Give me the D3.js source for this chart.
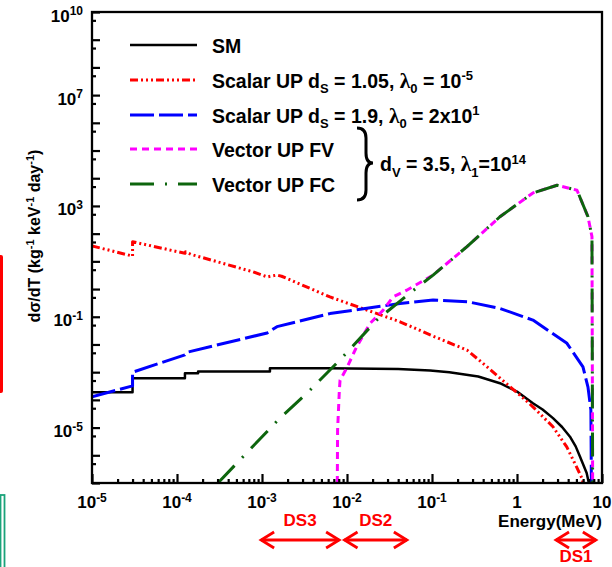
<!DOCTYPE html>
<html>
<head>
<meta charset="utf-8">
<script src="https://cdn.jsdelivr.net/npm/d3@7"></script>
<style>
body { margin: 0; background: #fff; }
text { font-family: "Liberation Sans", Arial, sans-serif; font-weight: bold; }
</style>
</head>
<body>
<svg id="chart" width="612" height="567"></svg>
<script>
// energy in MeV, rate in kg^-1 keV^-1 day^-1
var smE = [1e-5, 3.0e-5, 3.0e-5, 1.24e-4, 1.24e-4, 1.77e-4, 1.77e-4, 1.24e-3, 1.24e-3, 6e-3, 0.04, 0.095, 0.16, 0.35, 0.63, 1.0, 1.54, 2.0, 2.65, 3.39, 4.2, 4.9, 5.5, 6.6, 7.0];
var smR = [1.9e-4, 1.9e-4, 6.0e-4, 6.0e-4, 9.1e-4, 9.1e-4, 1.05e-3, 1.05e-3, 1.38e-3, 1.38e-3, 1.3e-3, 1.15e-3, 1.0e-3, 7e-4, 4e-4, 2.0e-4, 7.6e-5, 4.5e-5, 2.2e-5, 1.05e-5, 4.7e-6, 2.1e-6, 9e-7, 2.3e-7, 1e-7];

var s1E = [1e-5, 3.0e-5, 3.0e-5, 1.24e-4, 1.26e-4, 1.45e-4, 7.8e-4, 1.15e-3, 1.5e-3, 1.7e-3, 6.3e-3, 0.042, 0.103, 0.258, 0.44, 0.83, 1.08, 1.54, 2.65, 3.85, 5.0, 5.8, 6.0];
var s1R = [36, 15.5, 51, 19.5, 22, 18, 4.2, 2.75, 3.2, 2.9, 0.52, 0.066, 0.02, 6.3e-3, 1.6e-3, 2.95e-4, 1.5e-4, 5.6e-5, 1.07e-5, 2.0e-6, 3.9e-7, 1.5e-7, 1e-7];

var s2E = [1e-5, 3.0e-5, 3.0e-5, 1.24e-4, 1.3e-4, 1.15e-3, 1.5e-3, 6.3e-3, 0.042, 0.103, 0.26, 0.63, 1.54, 3.87, 5.97, 6.84, 7.4, 7.5];
var s2R = [1.3e-4, 3.2e-4, 1.0e-3, 4.2e-3, 5.2e-3, 0.026, 0.044, 0.13, 0.30, 0.40, 0.35, 0.20, 0.076, 0.011, 1.55e-3, 2.9e-4, 4.3e-5, 1e-7];

var fvE = [7.69e-3, 7.75e-3, 8.13e-3, 8.28e-3, 9.9e-3, 0.013, 0.0187, 0.0265, 0.0348, 0.0504, 0.103, 0.258, 0.63, 1.54, 2.96, 5.08, 6.84, 7.62, 7.76];
var fvR = [1e-7, 8.1e-6, 2.24e-4, 5.1e-4, 1.38e-3, 8.3e-3, 0.058, 0.17, 0.52, 0.91, 3.2, 34, 407, 2950, 5600, 3700, 407, 78, 1e-7];

var fcE = [3.03e-4, 1.54e-3, 3.67e-3, 8.97e-3, 0.0224, 0.055, 0.103, 0.258, 0.63, 1.54, 2.96, 5.08, 6.84, 7.62, 7.76];
var fcR = [1e-7, 1.86e-5, 2.24e-4, 3.6e-3, 0.076, 0.72, 3.2, 34, 407, 2950, 5600, 3700, 407, 78, 1e-7];

var xMajor = [1e-5, 1e-4, 1e-3, 1e-2, 1e-1, 1, 10];
var xLabels = [["10", "-5"], ["10", "-4"], ["10", "-3"], ["10", "-2"], ["10", "-1"], ["1", ""], ["10", ""]];
var yLabelVals = [1e10, 1e7, 1e3, 1e-1, 1e-5];
var yLabels = [["10", "10"], ["10", "7"], ["10", "3"], ["10", "-1"], ["10", "-5"]];

var dsNames = ["DS3", "DS2", "DS1"];
var dsLo = [9.5e-4, 9.1e-3, 2.8];
var dsHi = [8.3e-3, 0.052, 8.7];

var legendParts = [
  [["SM", ""]],
  [["Scalar UP d", ""], ["S", "sub"], [" = 1.05, ", ""], ["λ", "greek"], ["0", "sub"], [" = 10", ""], ["-5", "sup"]],
  [["Scalar UP d", ""], ["S", "sub"], [" = 1.9,  ", ""], ["λ", "greek"], ["0", "sub"], [" = 2x10", ""], ["1", "sup"]],
  [["Vector UP FV", ""]],
  [["Vector UP FC", ""]]
];
var braceParts = [["d", ""], ["V", "sub"], [" = 3.5, ", ""], ["λ", "greek"], ["1", "sub"], ["=10", ""], ["14", "sup"]];

var series = [
  { e: smE, r: smR, color: "#000000", dash: null },
  { e: s1E, r: s1R, color: "#ff0000", dash: "8,3,2,3,2,3,2,3" },
  { e: s2E, r: s2R, color: "#0000ff", dash: "24,5" },
  { e: fvE, r: fvR, color: "#ff00ff", dash: "7,5" },
  { e: fcE, r: fcR, color: "#0d650d", dash: "24,11,2,11" }
];

var svg = d3.select("#chart");
var mL = 92, mR = 602, mT = 12, mB = 483;

var x = d3.scaleLog().domain([1e-5, 10]).range([mL, mR]);
var y = d3.scaleLog().domain([1e-7, 1e10]).range([mB, mT]);

function rich(t, parts, fs) {
  var shift = 0;
  parts.forEach(function(p) {
    var s = p[1] == "sub" ? fs * 0.3 : (p[1] == "sup" ? -fs * 0.38 : 0);
    var ts = t.append("tspan").text(p[0]).attr("dy", s - shift);
    shift = s;
    if (p[1] == "sub" || p[1] == "sup") ts.attr("font-size", Math.round(fs * 0.68));
    if (p[1] == "greek") ts.attr("font-family", "Liberation Serif").attr("font-size", fs * 1.1);
  });
}

// side bars from the slide
svg.append("rect").attr("x", -3).attr("y", 255).attr("width", 6).attr("height", 138).attr("rx", 2).attr("fill", "#ff0000");
svg.append("rect").attr("x", 0.5).attr("y", 495).attr("width", 4).attr("height", 80).attr("fill", "none").attr("stroke", "#1aa37a").attr("stroke-width", 1.8);

svg.append("clipPath").attr("id", "plot").append("rect")
  .attr("x", mL).attr("y", mT).attr("width", mR - mL).attr("height", mB - mT);

var line = d3.line().x(function(d) { return x(d[0]); }).y(function(d) { return y(d[1]); });

svg.append("g").attr("clip-path", "url(#plot)")
  .selectAll("path").data(series).enter().append("path")
  .attr("d", function(s) { return line(d3.zip(s.e, s.r)); })
  .attr("fill", "none")
  .attr("stroke", function(s) { return s.color; })
  .attr("stroke-width", function(s) { return s.dash ? 3 : 2.5; })
  .attr("stroke-linejoin", "round")
  .attr("stroke-dasharray", function(s) { return s.dash; });

// minor ticks
var xMinor = [];
xMajor.slice(0, -1).forEach(function(d) { for (var k = 2; k < 10; k++) xMinor.push(d * k); });
var yMajor = [], yMinor = [];
for (var p = -7; p <= 10; p++) { yMajor.push(Math.pow(10, p)); if (p < 10) yMinor.push(5 * Math.pow(10, p)); }

function styleAxis(g) {
  g.select(".domain").remove();
  g.selectAll("line").attr("stroke", "#000").attr("stroke-width", 2.2);
}

svg.append("g").attr("transform", "translate(0," + mB + ")")
  .call(d3.axisBottom(x).tickValues(xMajor).tickSize(-9).tickFormat("")).call(styleAxis);
svg.append("g").attr("transform", "translate(0," + mB + ")")
  .call(d3.axisBottom(x).tickValues(xMinor).tickSize(-4).tickFormat("")).call(styleAxis);
svg.append("g").attr("transform", "translate(" + mL + ",0)")
  .call(d3.axisLeft(y).tickValues(yMajor).tickSize(-8).tickFormat("")).call(styleAxis);
svg.append("g").attr("transform", "translate(" + mL + ",0)")
  .call(d3.axisLeft(y).tickValues(yMinor).tickSize(-4).tickFormat("")).call(styleAxis);

// frame
svg.append("rect").attr("x", mL).attr("y", mT).attr("width", mR - mL).attr("height", mB - mT)
  .attr("fill", "none").attr("stroke", "#000").attr("stroke-width", 2.3);

// tick labels
xMajor.forEach(function(v, i) {
  var t = svg.append("text").attr("x", x(v)).attr("y", 508).attr("text-anchor", "middle").attr("font-size", 17);
  rich(t, [[xLabels[i][0], ""], [xLabels[i][1], "sup"]], 17);
});
yLabelVals.forEach(function(v, i) {
  var t = svg.append("text").attr("x", 83).attr("y", y(v) + 9.5).attr("text-anchor", "end").attr("font-size", 17);
  rich(t, [[yLabels[i][0], ""], [yLabels[i][1], "sup"]], 17);
});

svg.append("text").attr("x", 602).attr("y", 527).attr("text-anchor", "end").attr("font-size", 17).text("Energy(MeV)");

var yt = svg.append("text").attr("transform", "translate(40,236) rotate(-90)").attr("text-anchor", "middle").attr("font-size", 16);
rich(yt, [["dσ/dT (kg", ""], ["-1", "sup"], [" keV", ""], ["-1", "sup"], [" day", ""], ["-1", "sup"], [")", ""]], 16);

// legend
var legY = [45, 80, 115, 149, 184];
series.forEach(function(s, i) {
  svg.append("line").attr("x1", 130).attr("x2", 197).attr("y1", legY[i]).attr("y2", legY[i])
    .attr("stroke", s.color).attr("stroke-width", s.dash ? 3 : 2.5).attr("stroke-dasharray", s.dash);
  var t = svg.append("text").attr("x", 212).attr("y", legY[i] + 7.5).attr("font-size", 19.5);
  rich(t, legendParts[i], 19.5);
});
svg.append("path")
  .attr("d", "M357,128 Q366,128 366,138 L366,153 Q366,163 373,163 Q366,163 366,173 L366,190 Q366,200 357,200")
  .attr("fill", "none").attr("stroke", "#000").attr("stroke-width", 3);
var bt = svg.append("text").attr("x", 380).attr("y", 171).attr("font-size", 19.5);
rich(bt, braceParts, 19.5);

// detector ranges
var dsY = [540, 540, 540];
var dsLabelY = [526, 526, 562];
dsNames.forEach(function(n, i) {
  var a = x(dsLo[i]) + 1, b = x(dsHi[i]) - 1, yy = dsY[i];
  var g = svg.append("g").attr("stroke", "#ff0000").attr("stroke-width", 2.8).attr("fill", "none");
  g.append("line").attr("x1", a).attr("x2", b).attr("y1", yy).attr("y2", yy);
  g.append("path").attr("d", "M" + (a + 13) + "," + (yy - 8) + " L" + a + "," + yy + " L" + (a + 13) + "," + (yy + 8));
  g.append("path").attr("d", "M" + (b - 13) + "," + (yy - 8) + " L" + b + "," + yy + " L" + (b - 13) + "," + (yy + 8));
  svg.append("text").attr("x", (a + b) / 2).attr("y", dsLabelY[i]).attr("text-anchor", "middle")
    .attr("font-size", 17).attr("fill", "#ff0000").text(n);
});
</script>
</body>
</html>
